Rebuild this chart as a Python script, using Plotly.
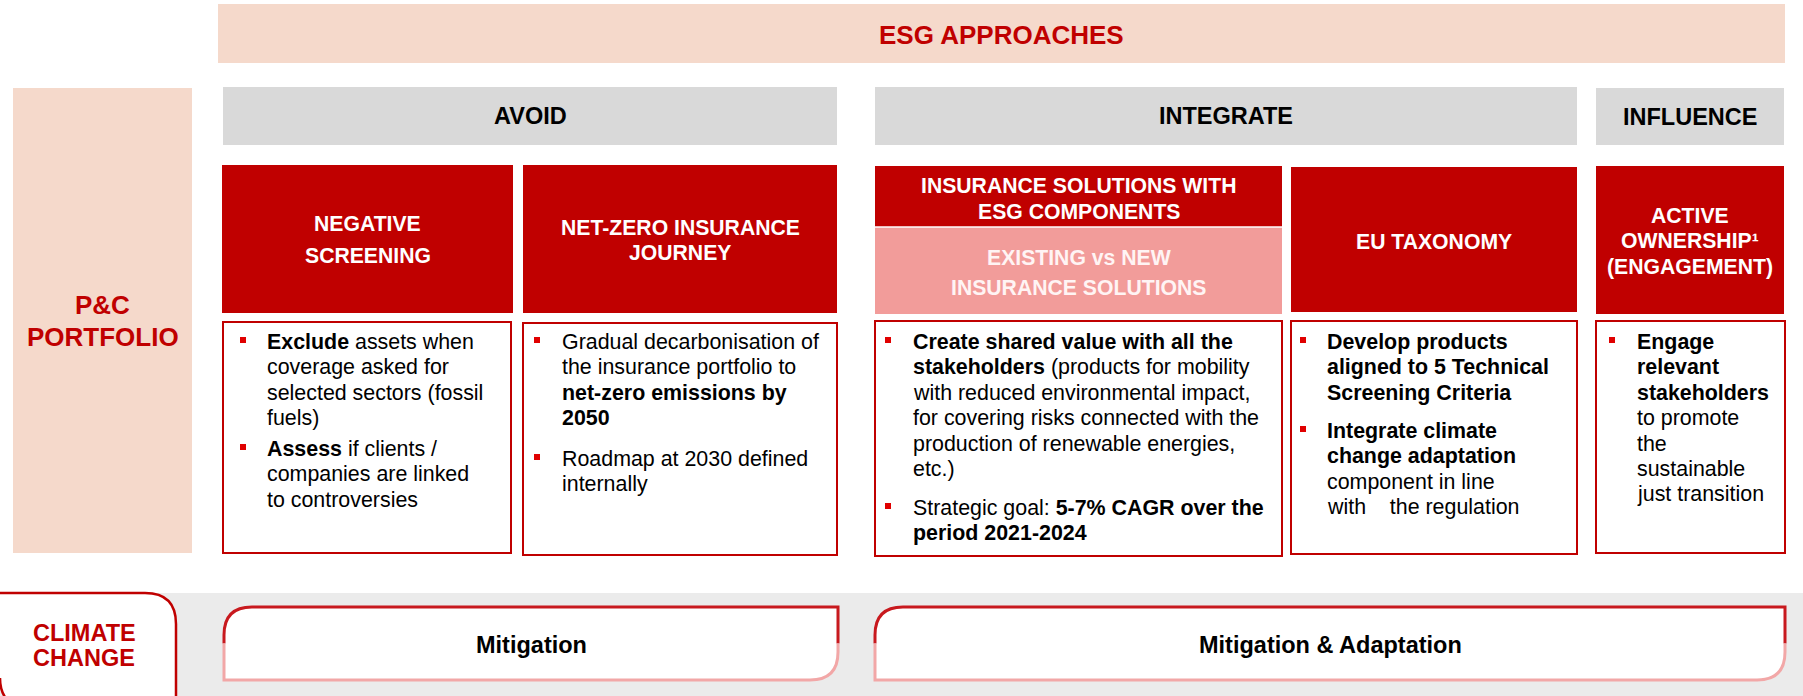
import plotly.graph_objects as go

W, H = 1803, 696
FONT = "Liberation Sans, Arial, sans-serif"

# ---------------- content ----------------
top_title = "ESG APPROACHES"
row_label = ["P&C", "PORTFOLIO"]
approaches = ["AVOID", "INTEGRATE", "INFLUENCE"]
card_titles = [
    ["NEGATIVE", "SCREENING"],
    ["NET-ZERO INSURANCE", "JOURNEY"],
    ["INSURANCE SOLUTIONS WITH", "ESG COMPONENTS"],
    ["EU TAXONOMY"],
    ["ACTIVE", "OWNERSHIP¹", "(ENGAGEMENT)"],
]
sub_card_title = ["EXISTING vs NEW", "INSURANCE SOLUTIONS"]
bullets = [
    [["<b>Exclude</b> assets when", "coverage asked for", "selected sectors (fossil", "fuels)"],
     ["<b>Assess</b> if clients /", "companies are linked", "to controversies"]],
    [["Gradual decarbonisation of", "the insurance portfolio to", "<b>net-zero emissions by</b>", "<b>2050</b>"],
     ["Roadmap at 2030 defined", "internally"]],
    [["<b>Create shared value with all the</b>", "<b>stakeholders</b> (products for mobility",
      "with reduced environmental impact,", "for covering risks connected with the",
      "production of renewable energies,", "etc.)"],
     ["Strategic goal: <b>5-7% CAGR over the</b>", "<b>period 2021-2024</b>"]],
    [["<b>Develop products</b>", "<b>aligned to 5 Technical</b>", "<b>Screening Criteria</b>"],
     ["<b>Integrate climate</b>", "<b>change adaptation</b>", "component in line", "with    the regulation"]],
    [["<b>Engage</b>", "<b>relevant</b>", "<b>stakeholders</b>", "to promote", "the", "sustainable", "just transition"]],
]
climate_label = ["CLIMATE", "CHANGE"]
climate_items = ["Mitigation", "Mitigation & Adaptation"]

# ---------------- layout geometry (pixels) ----------------
RED = "#C00000"
BULLET_RED = "#E00000"
PEACH = "#F5D9CB"
GRAY = "#D9D9D9"
PINK = "#F29C9A"
BAND = "#EBEBEB"

banner_box = (218, 4, 1785, 63)
row_box = (13, 88, 192, 553)
approach_boxes = [(223, 87, 837, 145), (875, 87, 1577, 145), (1596, 88, 1784, 145)]
card_boxes = [(222, 165, 513, 313), (523, 165, 837, 313), (875, 166, 1282, 227),
              (1291, 167, 1577, 312), (1596, 166, 1784, 314)]
card_title_y = [[223, 255], [227, 252], [185, 211], [241], [215, 240, 267]]
sub_card_box = (875, 227, 1282, 314)
sub_card_y = [257, 287]
text_boxes = [(223, 322, 511, 553), (523, 323, 837, 555), (875, 321, 1282, 556),
              (1291, 321, 1577, 554), (1596, 321, 1785, 553)]
bullet_x = [243, 537, 888, 1303, 1612]
text_x = [265, 560, 911, 1325, 1635]
bullet_y0 = [[342, 449], [342, 459], [342, 508], [342, 431], [342]]
LINE = 25.4
BODY = 21.4

fig = go.Figure()
shapes = []
ann = []


def rect(b, fill, line=None, lw=0):
    shapes.append(dict(type="rect", x0=b[0], y0=b[1], x1=b[2], y1=b[3],
                       fillcolor=fill, line=dict(color=line or fill, width=lw),
                       layer="below"))


def text(x, y, s, size, color="black", bold=False, xanchor="center"):
    ann.append(dict(x=x, y=y, text=f"<b>{s}</b>" if bold else s, showarrow=False,
                    xanchor=xanchor, yanchor="middle",
                    font=dict(family=FONT, size=size, color=color)))


# banner
rect(banner_box, PEACH)
text((banner_box[0] + banner_box[2]) / 2, 35, top_title, 26, RED, True)

# row label
rect(row_box, PEACH)
text((row_box[0] + row_box[2]) / 2, 305, row_label[0], 26, RED, True)
text((row_box[0] + row_box[2]) / 2, 337, row_label[1], 26, RED, True)

# approaches
for b, name in zip(approach_boxes, approaches):
    rect(b, GRAY)
    text((b[0] + b[2]) / 2, (b[1] + b[3]) / 2, name, 23.5, "black", True)

# cards
for b, lines, ys in zip(card_boxes, card_titles, card_title_y):
    rect(b, RED)
    for s, y in zip(lines, ys):
        text((b[0] + b[2]) / 2, y, s, 21.2, "white", True)
rect(sub_card_box, PINK)
shapes.append(dict(type="line", x0=sub_card_box[0], x1=sub_card_box[2], y0=227, y1=227,
                   line=dict(color="white", width=1.5)))
for s, y in zip(sub_card_title, sub_card_y):
    text((sub_card_box[0] + sub_card_box[2]) / 2, y, s, 21.2, "#FFF4F4", True)

# text boxes with bullets
for i, b in enumerate(text_boxes):
    rect(b, "white", RED, 2)
    for blines, y0 in zip(bullets[i], bullet_y0[i]):
        shapes.append(dict(type="rect", x0=bullet_x[i] - 3, x1=bullet_x[i] + 3,
                           y0=y0 - 5, y1=y0 + 1, fillcolor=BULLET_RED,
                           line=dict(width=0)))
        for k, s in enumerate(blines):
            text(text_x[i], y0 + k * LINE, s, BODY, "black", False, "left")

# bottom band
rect((0, 593, W, H + 10), BAND)
# climate change box (rounded top-right / bottom-left)
shapes.append(dict(type="path",
                   path="M -5,593 L 145,593 Q 176,593 176,624 L 176,710 L 30,710 Q 0,710 0,680 Z",
                   fillcolor="white", line=dict(width=0), layer="below"))
shapes.append(dict(type="path", path="M -5,593 L 145,593 Q 176,593 176,624 L 176,710",
                   line=dict(color=RED, width=2.5)))
shapes.append(dict(type="path", path="M 0,678 Q 0,696 12,704",
                   line=dict(color=RED, width=2.5)))
text(84, 633, climate_label[0], 23.5, RED, True)
text(84, 658, climate_label[1], 23.5, RED, True)

mit_boxes = [(224, 607, 838, 680), (875, 607, 1785, 680)]
R = 28
for (x0, y0, x1, y1), label in zip(mit_boxes, climate_items):
    ym = (y0 + y1) / 2
    shapes.append(dict(type="path",
                       path=f"M {x0},{y0+R} Q {x0},{y0} {x0+R},{y0} L {x1},{y0} L {x1},{y1-R} "
                            f"Q {x1},{y1} {x1-R},{y1} L {x0},{y1} Z",
                       fillcolor="white", line=dict(width=0), layer="below"))
    shapes.append(dict(type="path",
                       path=f"M {x0},{ym} L {x0},{y0+R} Q {x0},{y0} {x0+R},{y0} L {x1},{y0} L {x1},{ym}",
                       line=dict(color="#C8191E", width=3)))
    shapes.append(dict(type="path",
                       path=f"M {x1},{ym} L {x1},{y1-R} Q {x1},{y1} {x1-R},{y1} L {x0},{y1} L {x0},{ym}",
                       line=dict(color="#F2A7A7", width=3)))
    text((x0 + x1) / 2, 645, label, 23.5, "black", True)

fig.update_layout(
    width=W, height=H, margin=dict(l=0, r=0, t=0, b=0),
    paper_bgcolor="white", plot_bgcolor="white",
    xaxis=dict(range=[0, W], visible=False, fixedrange=True),
    yaxis=dict(range=[H, 0], visible=False, fixedrange=True),
    shapes=shapes, annotations=ann, showlegend=False,
)
fig.write_html("out.html", config={"displayModeBar": False},
               post_script="document.body.style.margin='0';document.body.style.padding='0';"
                           "document.body.style.overflow='hidden';")
